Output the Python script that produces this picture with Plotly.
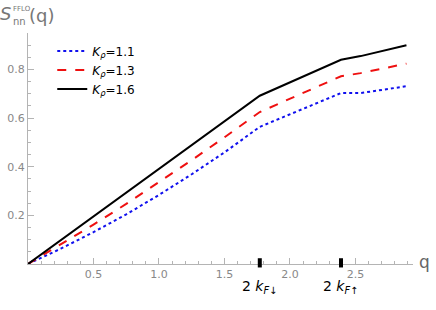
import plotly.graph_objects as go

q = [0, 0.25, 0.5, 0.75, 1.0, 1.25, 1.5, 1.77, 2.39, 2.54, 2.89]
s_11 = [0, 0.063, 0.131, 0.204, 0.284, 0.369, 0.459, 0.564, 0.703, 0.703, 0.731]
s_13 = [0, 0.080, 0.162, 0.247, 0.336, 0.427, 0.521, 0.625, 0.772, 0.785, 0.824]
s_16 = [0, 0.098, 0.196, 0.294, 0.392, 0.490, 0.588, 0.692, 0.840, 0.855, 0.900]
series_names = ["<i>K</i><sub><i>ρ</i></sub>=1.1", "<i>K</i><sub><i>ρ</i></sub>=1.3", "<i>K</i><sub><i>ρ</i></sub>=1.6"]
kf_pos = [1.77, 2.39]
kf_labels = ["2 <i>k</i><sub><i>F</i>↓</sub>", "2 <i>k</i><sub><i>F</i>↑</sub>"]
x_ticks = [0.5, 1.0, 1.5, 2.0, 2.5]
y_ticks = [0.2, 0.4, 0.6, 0.8]

fig = go.Figure()
styles = [("#1010ee", "dot"), ("#ee1010", "dash"), ("#000000", "solid")]
for ys, name, (c, d) in zip([s_11, s_13, s_16], series_names, styles):
    fig.add_trace(go.Scatter(x=q, y=ys, mode="lines", name=name,
                             line=dict(color=c, dash=d, width=2)))

axis_gray = "#b4b4b4"
fig.update_layout(
    width=436, height=310,
    margin=dict(l=28, r=23, t=33, b=46, autoexpand=False),
    plot_bgcolor="white", paper_bgcolor="white",
    font=dict(family="DejaVu Sans", size=11, color="#808080"),
    showlegend=True,
    legend=dict(x=0.063, y=0.985, xanchor="left", yanchor="top",
                font=dict(size=12, color="black"), bgcolor="rgba(0,0,0,0)",
                tracegroupgap=0, itemwidth=30),
    xaxis=dict(range=[0, 2.94], showgrid=False, zeroline=False, automargin=False,
               showline=True, linecolor=axis_gray, linewidth=1,
               tickvals=x_ticks, ticktext=[f"{v:.1f}" for v in x_ticks],
               ticks="inside", ticklen=6, tickcolor=axis_gray,
               minor=dict(dtick=0.1, ticks="inside", ticklen=3, tickcolor=axis_gray),
               tickfont=dict(color="#888888", size=11)),
    yaxis=dict(range=[0, 0.95], showgrid=False, zeroline=False, automargin=False,
               showline=True, linecolor=axis_gray, linewidth=1,
               tickvals=y_ticks, ticktext=[f"{v:.1f}" for v in y_ticks],
               ticks="inside", ticklen=6, tickcolor=axis_gray,
               minor=dict(dtick=0.05, ticks="inside", ticklen=3, tickcolor=axis_gray),
               tickfont=dict(color="#888888", size=11)),
)

for xv, lab in zip(kf_pos, kf_labels):
    fig.add_shape(type="line", xref="x", yref="paper", x0=xv, x1=xv, y0=-0.015, y1=0.025,
                  line=dict(color="black", width=4))
    fig.add_annotation(x=xv, xref="x", y=-0.1, yref="paper", text=lab, showarrow=False,
                       font=dict(size=14, color="black", family="DejaVu Sans"),
                       xanchor="center", yanchor="middle")

fig.add_annotation(x=1, xref="paper", y=0, yref="paper", text="q", showarrow=False,
                   xanchor="left", yanchor="middle", xshift=4, yshift=2,
                   font=dict(size=17, color="#666666"))
fig.add_annotation(x=0, xref="paper", y=1, yref="paper", text="<i>S</i>", showarrow=False,
                   xanchor="left", yanchor="bottom", xshift=-30, yshift=7,
                   font=dict(size=18, color="#777777"))
fig.add_annotation(x=0, xref="paper", y=1, yref="paper", text="nn", showarrow=False,
                   xanchor="left", yanchor="bottom", xshift=-17, yshift=4,
                   font=dict(size=10, color="#777777"))
fig.add_annotation(x=0, xref="paper", y=1, yref="paper", text="FFLO", showarrow=False,
                   xanchor="left", yanchor="bottom", xshift=-17, yshift=18,
                   font=dict(size=7, color="#777777"))
fig.add_annotation(x=0, xref="paper", y=1, yref="paper", text="(q)", showarrow=False,
                   xanchor="left", yanchor="bottom", xshift=-1, yshift=5,
                   font=dict(size=18, color="#777777"))

fig.write_html("out.html", config={"displayModeBar": False},
               post_script="document.body.style.margin='0px';")
